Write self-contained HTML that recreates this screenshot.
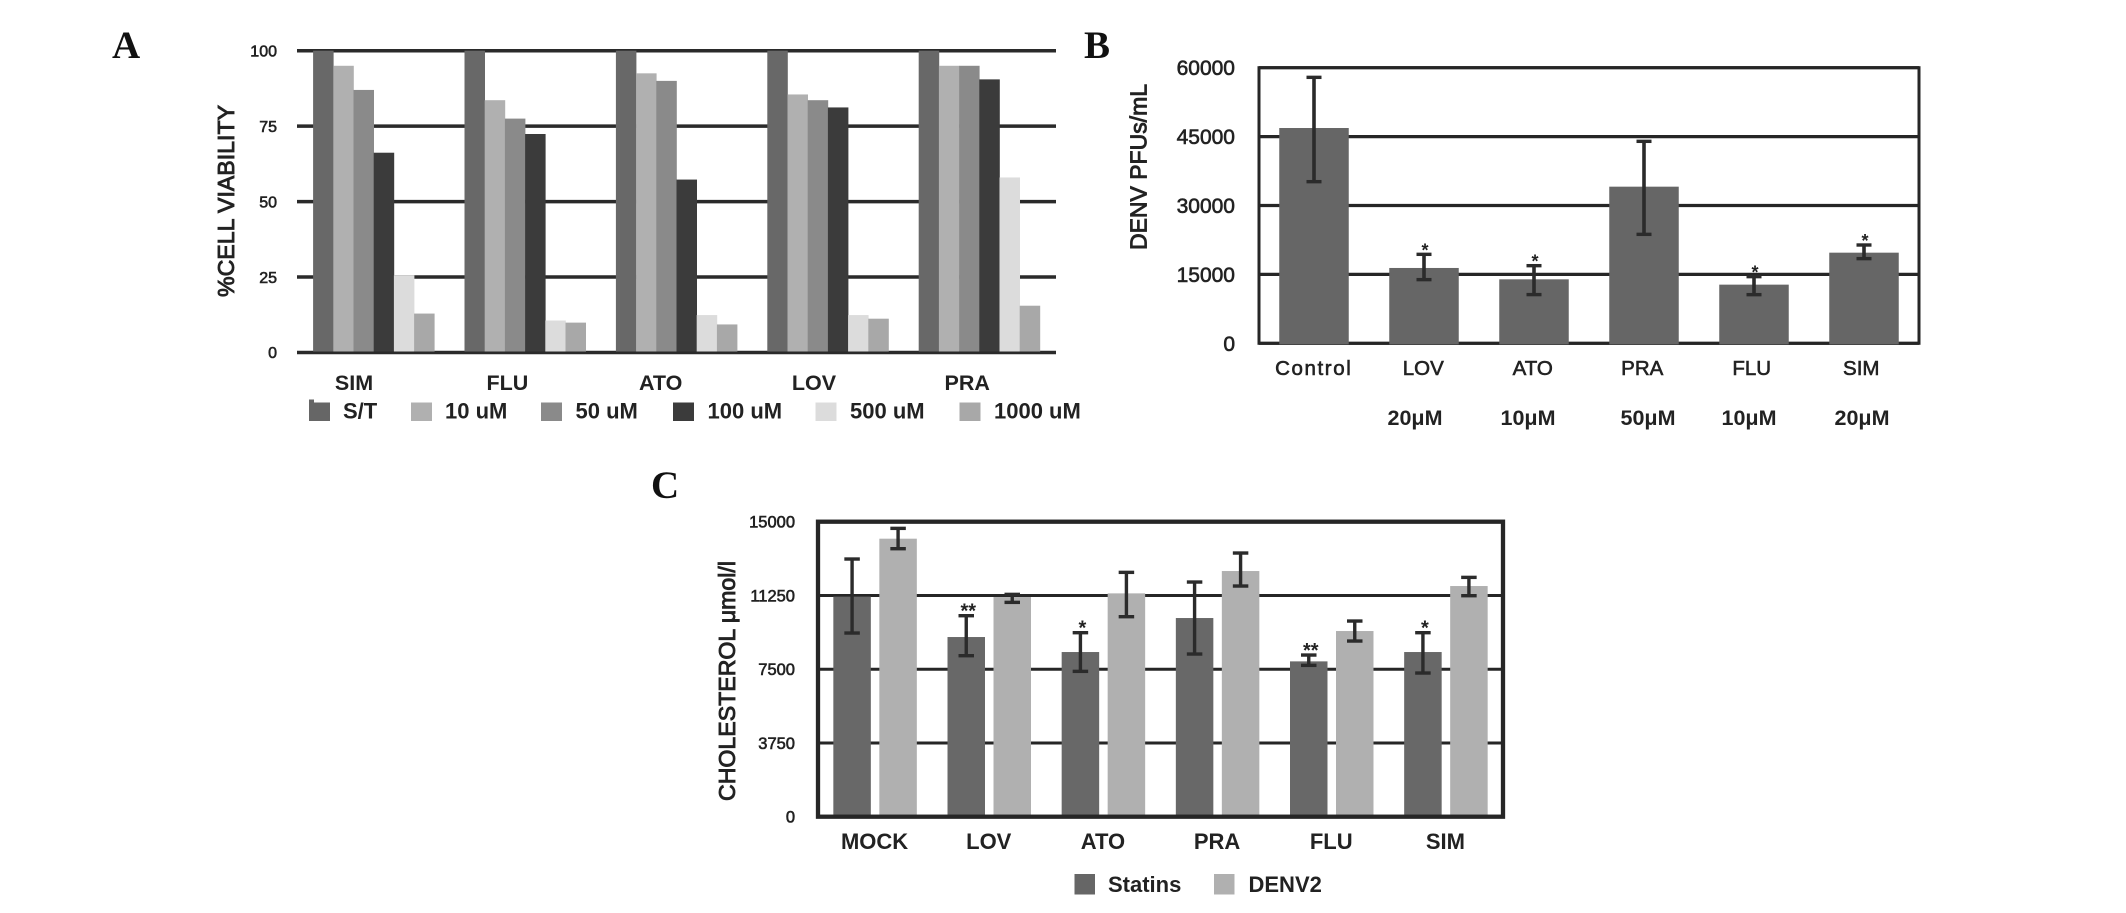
<!DOCTYPE html>
<html lang="en">
<head>
<meta charset="utf-8">
<title>Statin cell viability, DENV titre and cholesterol charts</title>
<style>
html,body{margin:0;padding:0;background:#fff;width:2126px;height:913px;overflow:hidden}
svg{display:block;font-family:"Liberation Sans",Arial,sans-serif}
text{fill:#222}
.letter{font-family:"Liberation Serif",serif;font-weight:bold;font-size:39px;fill:#111}
.title{font-size:23px;stroke:#222;stroke-width:.9px}
.med{stroke:#222;stroke-width:.6px}
.dose{font-weight:bold;font-size:21.5px;text-anchor:middle}
.leg{font-weight:bold;font-size:22px}
</style>
</head>
<body>
<svg id="fig" width="2126" height="913" viewBox="0 0 2126 913" xmlns="http://www.w3.org/2000/svg">
  <text class="letter" x="112" y="58">A</text>
  <text class="letter" x="1084" y="58">B</text>
  <text class="letter" x="651" y="498">C</text>

  <g id="panelA"></g>
  <g id="panelB"></g>
  <g id="panelC"></g>

  <text class="title" transform="translate(234,201) rotate(-90)" text-anchor="middle" textLength="192" lengthAdjust="spacingAndGlyphs">%CELL VIABILITY</text>
  <text class="title" transform="translate(1146.5,167) rotate(-90)" text-anchor="middle" textLength="166" lengthAdjust="spacingAndGlyphs">DENV PFUs/mL</text>
  <text class="title" transform="translate(735,681) rotate(-90)" text-anchor="middle" textLength="240" lengthAdjust="spacingAndGlyphs">CHOLESTEROL μmol/l</text>

  <g>
    <text class="dose" x="1415" y="425">20μM</text>
    <text class="dose" x="1528" y="425">10μM</text>
    <text class="dose" x="1648" y="425">50μM</text>
    <text class="dose" x="1749" y="425">10μM</text>
    <text class="dose" x="1862" y="425">20μM</text>
  </g>

  <g>
    <rect x="309" y="402.5" width="21" height="18.5" fill="#666"/>
    <rect x="309" y="399.5" width="5" height="4" fill="#666"/>
    <text class="leg" x="343" y="418.5">S/T</text>
    <rect x="411" y="402.5" width="21" height="18.5" fill="#b0b0b0"/>
    <text class="leg" x="445" y="418.5">10 uM</text>
    <rect x="541" y="402.5" width="21" height="18.5" fill="#8a8a8a"/>
    <text class="leg" x="575.5" y="418.5">50 uM</text>
    <rect x="673" y="402.5" width="21" height="18.5" fill="#3b3b3b"/>
    <text class="leg" x="707.5" y="418.5">100 uM</text>
    <rect x="815.5" y="402.5" width="21" height="18.5" fill="#dcdcdc"/>
    <text class="leg" x="850" y="418.5">500 uM</text>
    <rect x="959.5" y="402.5" width="21" height="18.5" fill="#a8a8a8"/>
    <text class="leg" x="994" y="418.5">1000 uM</text>
  </g>

  <g>
    <rect x="1074.5" y="874" width="20.5" height="20.5" fill="#666"/>
    <text class="leg" x="1108" y="892">Statins</text>
    <rect x="1214" y="874" width="20.5" height="20.5" fill="#b0b0b0"/>
    <text class="leg" x="1248.5" y="892">DENV2</text>
  </g>
</svg>

<script>
// Panel A data
const catsA = ['SIM', 'FLU', 'ATO', 'LOV', 'PRA'];
const seriesNamesA = ['S/T', '10 uM', '50 uM', '100 uM', '500 uM', '1000 uM'];
const viabilityST = [100, 100, 100, 100, 100];
const viability10 = [95, 83.6, 92.5, 85.5, 95];
const viability50 = [87, 77.5, 90, 83.6, 95];
const viability100 = [66.2, 72.4, 57.3, 81.2, 90.5];
const viability500 = [25.6, 10.6, 12.4, 12.4, 58];
const viability1000 = [12.9, 9.9, 9.3, 11.2, 15.5];
const ticksA = [0, 25, 50, 75, 100];

// Panel B data
const catsB = ['Control', 'LOV', 'ATO', 'PRA', 'FLU', 'SIM'];
const pfuValues = [46870, 16400, 13930, 34100, 12770, 19730];
const pfuErrHigh = [57900, 19370, 16900, 43970, 14510, 21400];
const pfuErrLow = [35190, 13860, 10600, 23720, 10590, 18430];
const pfuStars = ['', '*', '*', '', '*', '*'];
const ticksB = [0, 15000, 30000, 45000, 60000];

// Panel C data
const catsC = ['MOCK', 'LOV', 'ATO', 'PRA', 'FLU', 'SIM'];
const statinValues = [11190, 9136, 8373, 10102, 7898, 8373];
const statinErrHigh = [13102, 10220, 9356, 11932, 8220, 9356];
const statinErrLow = [9339, 8186, 7390, 8271, 7695, 7305];
const statinStars = ['', '**', '*', '', '**', '*'];
const denvValues = [14136, 11169, 11356, 12492, 9441, 11729];
const denvErrHigh = [14661, 11305, 12424, 13407, 9949, 12169];
const denvErrLow = [13627, 10898, 10169, 11729, 8932, 11237];
const ticksC = [0, 3750, 7500, 11250, 15000];

const NS = 'http://www.w3.org/2000/svg';
function mk(parent, tag, attrs, txt) {
  const el = document.createElementNS(NS, tag);
  for (const k in attrs) el.setAttribute(k, attrs[k]);
  if (txt !== undefined) el.textContent = txt;
  parent.appendChild(el);
  return el;
}
function linear(d0, d1, r0, r1) { return v => r0 + (v - d0) / (d1 - d0) * (r1 - r0); }
function band(n, r0, r1) { const s = (r1 - r0) / n; return i => r0 + s * (i + 0.5); }

function drawError(g, cx, yHi, yLo, cap, sw) {
  const stem = mk(g, 'line', {x1: cx, x2: cx, y1: yHi, y2: yLo, stroke: '#2b2b2b', 'stroke-width': sw});
  
  
  const top = mk(g, 'line', {x1: cx - cap / 2, x2: cx + cap / 2, y1: yHi, y2: yHi, stroke: '#2b2b2b', 'stroke-width': 3.4});
  
  
  const bot = mk(g, 'line', {x1: cx - cap / 2, x2: cx + cap / 2, y1: yLo, y2: yLo, stroke: '#2b2b2b', 'stroke-width': 3.4});
  
  
}
function drawStar(g, cx, yTop, s, size) {
  const st = mk(g, 'text', {x: cx, y: yTop + 2, 'text-anchor': 'middle', 'font-size': size, 'font-weight': 'bold'}, s);
  
  
}

/* ---------- Panel A ---------- */
(function () {
  const g = document.getElementById('panelA');
  const yA = linear(0, 100, 352.5, 50.7);
  const cx = band(catsA.length, 298, 1055);
  const labelX = band(catsA.length, 277.4, 1043.9);
  const seriesA = [viabilityST, viability10, viability50, viability100, viability500, viability1000];
  const colors = ['#686868', '#b0b0b0', '#8a8a8a', '#3b3b3b', '#dcdcdc', '#a8a8a8'];
  const barW = 20.2;
  ticksA.forEach(t => {
    const gl = mk(g, 'line', {x1: 297, x2: 1056, y1: yA(t), y2: yA(t), stroke: '#2a2a2a', 'stroke-width': 3.5});
    
    
    const tl = mk(g, 'text', {x: 277, y: yA(t) + 5.7, 'text-anchor': 'end', 'font-size': 16, class: 'med'}, String(t));
    
    
  });
  catsA.forEach((c, i) => {
    const x0 = cx(i) - barW * seriesA.length / 2;
    seriesA.forEach((s, j) => {
      const b = mk(g, 'rect', {x: x0 + j * barW, y: yA(s[i]), width: barW + 0.3, height: yA(0) - yA(s[i]) - 1, fill: colors[j]});
      
      
      mk(b, 'title', {}, c + ' ' + seriesNamesA[j] + ': ' + s[i]);
    });
    const lab = mk(g, 'text', {x: labelX(i), y: 390, 'text-anchor': 'middle', 'font-size': 21.5, 'font-weight': 'bold'}, c);
    
    
  });
})();

/* ---------- Panel B ---------- */
(function () {
  const g = document.getElementById('panelB');
  const yB = linear(0, 60000, 343.3, 67.7);
  const cx = band(catsB.length, 1259, 1919);
  const labelX = band(catsB.length, 1259, 1916);
  const barW = 69.5;
  ticksB.forEach(t => {
    const gl = mk(g, 'line', {x1: 1259, x2: 1919, y1: yB(t), y2: yB(t), stroke: '#262626', 'stroke-width': 3.2});
    
    
    const tl = mk(g, 'text', {x: 1235, y: yB(t) + 7.5, 'text-anchor': 'end', 'font-size': 21, class: 'med'}, String(t));
    
    
  });
  const fr = mk(g, 'rect', {x: 1259, y: 67.7, width: 660, height: 275.6, fill: 'none', stroke: '#262626', 'stroke-width': 3});
  
  
  catsB.forEach((c, i) => {
    const b = mk(g, 'rect', {x: cx(i) - barW / 2, y: yB(pfuValues[i]), width: barW, height: yB(0) - yB(pfuValues[i]) + 1, fill: '#666666'});
    
    
    drawError(g, cx(i), yB(pfuErrHigh[i]), yB(pfuErrLow[i]), 15, 3.6);
    if (pfuStars[i]) drawStar(g, cx(i) + 1, yB(pfuErrHigh[i]), pfuStars[i], 18);
    const lab = mk(g, 'text', {x: labelX(i), y: 375, 'text-anchor': 'middle', 'font-size': 20.5, class: 'med', 'letter-spacing': c.length > 3 ? 1.6 : 0}, c);
    
    
  });
})();

/* ---------- Panel C ---------- */
(function () {
  const g = document.getElementById('panelC');
  const yC = linear(0, 15000, 816.7, 521.7);
  const cx = band(catsC.length, 818, 1503);
  const barW = 37.5, off = 23;
  ticksC.forEach(t => {
    if (t !== 0 && t !== 15000) {
      const gl = mk(g, 'line', {x1: 818, x2: 1503, y1: yC(t), y2: yC(t), stroke: '#262626', 'stroke-width': 3});
      
      
    }
    const tl = mk(g, 'text', {x: 795, y: yC(t) + 6, 'text-anchor': 'end', 'font-size': 16.5, class: 'med'}, String(t));
    
    
  });
  catsC.forEach((c, i) => {
    const a = mk(g, 'rect', {x: cx(i) - off - barW / 2, y: yC(statinValues[i]), width: barW, height: yC(0) - yC(statinValues[i]), fill: '#686868'});
    
    
    const d = mk(g, 'rect', {x: cx(i) + off - barW / 2, y: yC(denvValues[i]), width: barW, height: yC(0) - yC(denvValues[i]), fill: '#b0b0b0'});
    
    
    const lab = mk(g, 'text', {x: cx(i) - 0.5, y: 849, 'text-anchor': 'middle', 'font-size': 22, 'font-weight': 'bold'}, c);
    
    
  });
  const fr = mk(g, 'rect', {x: 818, y: 521.7, width: 685, height: 295, fill: 'none', stroke: '#262626', 'stroke-width': 4.3});
  
  
  catsC.forEach((c, i) => {
    drawError(g, cx(i) - off, yC(statinErrHigh[i]), yC(statinErrLow[i]), 15.5, 3.4);
    drawError(g, cx(i) + off, yC(denvErrHigh[i]), yC(denvErrLow[i]), 15.5, 3.4);
    if (statinStars[i]) drawStar(g, cx(i) - off + 2, yC(statinErrHigh[i]), statinStars[i], 20);
  });
})();
</script>
</body>
</html>
